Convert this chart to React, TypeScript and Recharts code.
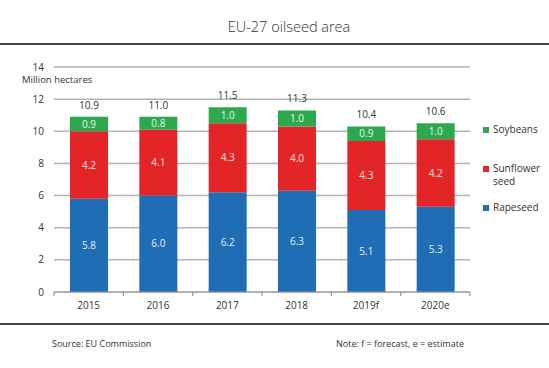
import React from "react";
import { Bar, BarChart, CartesianGrid, LabelList, XAxis, YAxis } from "recharts";

const years = ["2015", "2016", "2017", "2018", "2019f", "2020e"];
const rapeseed = [5.8, 6.0, 6.2, 6.3, 5.1, 5.3];
const sunflower = [4.2, 4.1, 4.3, 4.0, 4.3, 4.2];
const soybeans = [0.9, 0.8, 1.0, 1.0, 0.9, 1.0];
const totals = [10.9, 11.0, 11.5, 11.3, 10.4, 10.6];
const yTicks = [0, 2, 4, 6, 8, 10, 12, 14];

const data = years.map((year, i) => ({
  year,
  rapeseed: rapeseed[i],
  sunflower: sunflower[i],
  soybeans: soybeans[i],
  total: totals[i],
}));

const FONT = "'Open Sans', 'Noto Sans', sans-serif";
const INK = "#333333";
const BLUE = "#1f6db4";
const RED = "#e42528";
const GREEN = "#2ea84f";
const GRID = "#b3b3b3";
const FS = 10;

const W = 549;
const H = 368;
const BAND = (470 - 54) / years.length;

const XTick = (props: any) => {
  const { x, y, payload, index } = props;
  const axisY = y - 10;
  return (
    <g>
      <line x1={x - BAND / 2} x2={x - BAND / 2} y1={axisY} y2={axisY + 4} stroke="#999" strokeWidth={1.2} />
      {index === years.length - 1 && (
        <line x1={x + BAND / 2} x2={x + BAND / 2} y1={axisY} y2={axisY + 4} stroke="#999" strokeWidth={1.2} />
      )}
      <text x={x} y={y} dy="0.71em" textAnchor="middle" fill={INK} fontSize={FS} fontFamily={FONT}>
        {payload.value}
      </text>
    </g>
  );
};

const fmt = (v: any) => Number(v).toFixed(1);

const LegendItem = ({ color, lines, top }: { color: string; lines: string[]; top: number }) => (
  <div style={{ position: "absolute", left: 483, top, display: "flex", alignItems: "flex-start" }}>
    <div style={{ width: 6, height: 6, background: color, marginTop: 4, marginRight: 4 }} />
    <div style={{ fontSize: FS, lineHeight: "13px", color: INK }}>
      {lines.map((l) => (
        <div key={l}>{l}</div>
      ))}
    </div>
  </div>
);

export default function App() {
  return (
    <div
      style={{
        position: "absolute",
        left: 0,
        top: 0,
        width: W,
        height: H,
        background: "#fff",
        fontFamily: FONT,
        color: INK,
      }}
    >
      <div
        style={{
          position: "absolute",
          left: 0,
          width: 578,
          top: 17,
          textAlign: "center",
          fontSize: 14.5,
          fontWeight: 300,
        }}
      >
        EU-27 oilseed area
      </div>
      <div style={{ position: "absolute", left: 0, top: 43, width: W, height: 1.5, background: "#444" }} />

      <BarChart
        width={W}
        height={H}
        data={data}
        margin={{ top: 67, right: 79, bottom: 46, left: 14 }}
        style={{ position: "absolute", left: 0, top: 0 }}
      >
        <CartesianGrid vertical={false} stroke={GRID} strokeWidth={1.5} />
        <XAxis
          dataKey="year"
          stroke="#999"
          strokeWidth={1.2}
          tickLine={false}
          tickMargin={4}
          tick={<XTick />}
        />
        <YAxis
          width={40}
          domain={[0, 14]}
          ticks={yTicks}
          axisLine={false}
          tickLine={false}
          tickMargin={4}
          tick={{ fill: INK, fontSize: FS, fontFamily: FONT }}
        />
        <Bar dataKey="rapeseed" stackId="a" fill={BLUE} barSize={38} isAnimationActive={false}>
          <LabelList dataKey="rapeseed" position="center" fill="#e6eef8" fontSize={FS} fontFamily={FONT} formatter={fmt} />
        </Bar>
        <Bar dataKey="sunflower" stackId="a" fill={RED} barSize={38} isAnimationActive={false}>
          <LabelList dataKey="sunflower" position="center" fill="#fbe3e3" fontSize={FS} fontFamily={FONT} formatter={fmt} />
        </Bar>
        <Bar dataKey="soybeans" stackId="a" fill={GREEN} barSize={38} isAnimationActive={false}>
          <LabelList dataKey="soybeans" position="center" fill="#e3f5e8" fontSize={FS} fontFamily={FONT} formatter={fmt} />
          <LabelList dataKey="total" position="top" offset={8} fill={INK} fontSize={FS} fontFamily={FONT} formatter={fmt} />
        </Bar>
      </BarChart>

      <div style={{ position: "absolute", left: 22, top: 74, fontSize: 9.5, lineHeight: "11px" }}>Million hectares</div>

      <LegendItem color={GREEN} lines={["Soybeans"]} top={123} />
      <LegendItem color={RED} lines={["Sunflower", "seed"]} top={162} />
      <LegendItem color={BLUE} lines={["Rapeseed"]} top={201} />

      <div style={{ position: "absolute", left: 0, top: 323, width: W, height: 1.5, background: "#444" }} />
      <div style={{ position: "absolute", left: 52, top: 337, fontSize: 9 }}>Source: EU Commission</div>
      <div style={{ position: "absolute", left: 336, top: 337, fontSize: 9 }}>Note: f = forecast, e = estimate</div>
    </div>
  );
}
